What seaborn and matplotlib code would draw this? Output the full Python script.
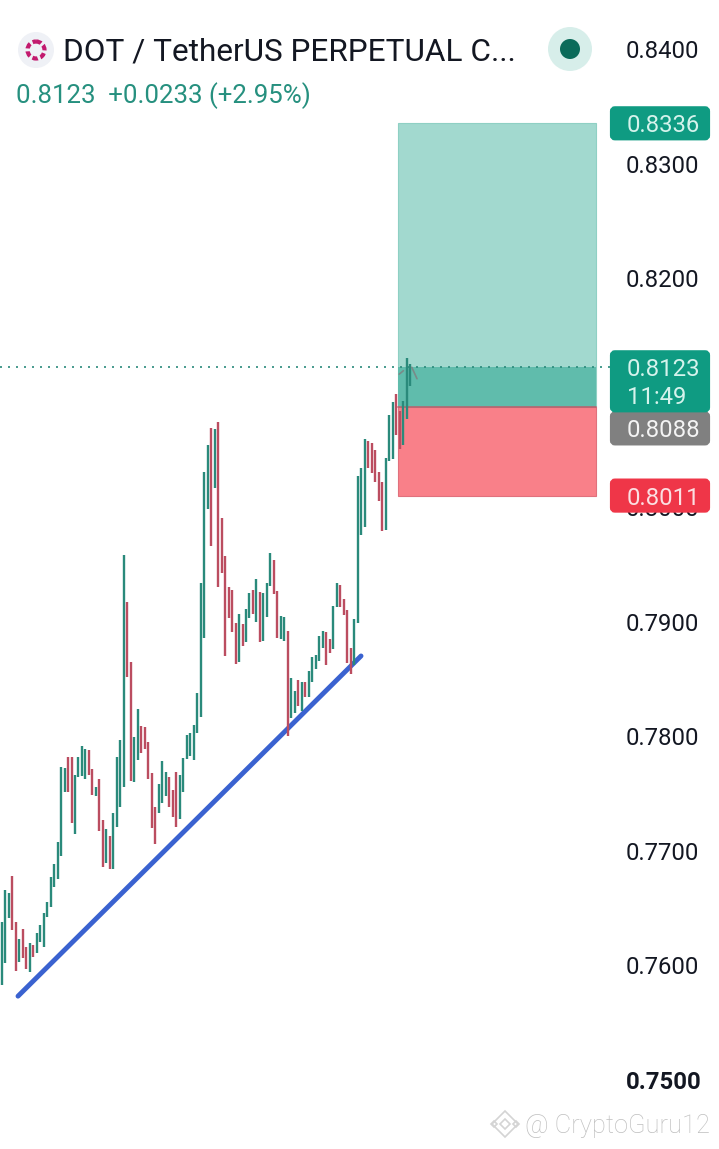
import numpy as np
import pandas as pd
import matplotlib as mpl
mpl.use('Agg')
import matplotlib.pyplot as plt
from matplotlib.patches import Circle, FancyBboxPatch, RegularPolygon
from matplotlib.transforms import Affine2D, ScaledTranslation
import seaborn as sns

# prices in 1e-4 units, left to right
bar_highs = [7639, 7667, 7664, 7679, 7639, 7624, 7633, 7617, 7620, 7619,
             7629, 7636, 7647, 7656, 7678, 7689, 7709, 7774, 7773, 7783,
             7783, 7767, 7783, 7792, 7790, 7789, 7772, 7757, 7764, 7728,
             7720, 7714, 7734, 7783, 7798, 7959, 7918, 7866, 7800, 7825,
             7810, 7809, 7796, 7769, 7739, 7759, 7779, 7770, 7765, 7754,
             7770, 7767, 7782, 7802, 7804, 7811, 7839, 7935, 8032, 8055,
             8070, 8069, 8075, 7991, 7958, 7931, 7929, 7900, 7908, 7899,
             7912, 7926, 7929, 7938, 7927, 7926, 7935, 7961, 7955, 7928,
             7906, 7905, 7893, 7852, 7840, 7850, 7848, 7848, 7858, 7870,
             7872, 7888, 7893, 7892, 7886, 7915, 7935, 7933, 7921, 7911,
             7878, 7903, 8028, 8035, 8060, 8059, 8057, 8051, 8032, 8023,
             8044, 8081, 8093, 8100, 8085, 8094, 8131, 8126]
bar_lows = [7584, 7603, 7642, 7632, 7596, 7604, 7607, 7598, 7595, 7608,
            7612, 7621, 7617, 7643, 7652, 7669, 7676, 7696, 7752, 7752,
            7725, 7716, 7765, 7766, 7764, 7767, 7750, 7749, 7718, 7687,
            7690, 7685, 7685, 7722, 7739, 7757, 7853, 7762, 7761, 7780,
            7786, 7790, 7764, 7721, 7707, 7734, 7743, 7749, 7739, 7730,
            7722, 7729, 7752, 7781, 7784, 7780, 7804, 7818, 7887, 7999,
            7967, 8018, 7931, 7943, 7871, 7904, 7892, 7864, 7866, 7880,
            7883, 7904, 7908, 7901, 7883, 7884, 7905, 7932, 7925, 7887,
            7886, 7884, 7801, 7817, 7821, 7827, 7823, 7835, 7835, 7848,
            7860, 7867, 7878, 7863, 7874, 7877, 7914, 7914, 7907, 7865,
            7855, 7863, 7900, 7977, 7984, 8035, 8031, 8023, 8006, 7980,
            7981, 8041, 8043, 8064, 8052, 8055, 8078, 8107]
bar_sides = ('GGGRRGRRGR' 'GGGGGGGGGR' 'RGGGGRRGRR' 'GRGGGGRRGG' 'RRRRRGGGRR'
             'RGGGGGGGGG' 'RGRRRRRRGR' 'GGRGRGGGRR' 'GGRGGRGRGG' 'GGGRRGGRRR'
             'RGGGGRRRRR' 'GGGRRGGG')

tick_prices = [0.84, 0.83, 0.82, 0.80, 0.79, 0.78, 0.77, 0.76, 0.75]
tick_labels = ['0.8400', '0.8300', '0.8200', '0.8000', '0.7900', '0.7800',
               '0.7700', '0.7600', '0.7500']

last_price = 0.8123
target_price = 0.8336
entry_price = 0.8088
stop_price = 0.8011
trend_bars = [4.67, 102.96]
trend_prices = [0.7574, 0.7871]

W, H = 719, 1149
AX_W = 620
BAR_STEP = 3.49
BAR_X0 = 1.7
GREEN, RED = '#2a8a7b', '#bb4d60'
FONT = ['Roboto', 'DejaVu Sans']

sns.set_style('white')
plt.rcParams['font.family'] = FONT

df = pd.DataFrame({'bar': np.arange(len(bar_highs)),
                   'high': np.array(bar_highs) / 1e4,
                   'low': np.array(bar_lows) / 1e4,
                   'side': list(bar_sides)})
long_df = df.melt(id_vars=['bar', 'side'], value_vars=['high', 'low'], value_name='price')

fig = plt.figure(figsize=(W / 100, H / 100), dpi=100)
ax = fig.add_axes([0, 0, AX_W / W, 1])
# everything outside the plot area is placed in screen pixels, y going down
px = Affine2D().scale(1 / W, -1 / H).translate(0, 1) + fig.transFigure

# position tool
ax.axhspan(entry_price, target_price, xmin=398 / AX_W, xmax=596 / AX_W,
           fc='#a2d9cf', ec='#8fd0c4', lw=0.8, zorder=1)
ax.axhspan(stop_price, entry_price, xmin=398 / AX_W, xmax=596 / AX_W,
           fc='#f98089', ec='#e0717d', lw=0.8, zorder=1)
ax.axhspan(entry_price, last_price, xmin=398 / AX_W, xmax=596 / AX_W,
           fc='#60bcac', lw=0, zorder=1.1)
ax.axhline(entry_price, xmin=398 / AX_W, xmax=596 / AX_W, color='#b5656f', lw=1.2, zorder=1.2)

ax.plot(trend_bars, trend_prices, color='#3a62d0', lw=3.5, solid_capstyle='round', zorder=1.5)

sns.lineplot(data=long_df, x='bar', y='price', units='bar', hue='side', estimator=None,
             sort=False, errorbar=None, palette={'G': GREEN, 'R': RED}, legend=False,
             lw=1.7, solid_capstyle='butt', ax=ax, zorder=2)

ax.axhline(last_price, xmax=610 / AX_W, color='#2a8a7b', lw=1.2, ls=(0, (1.2, 3.6)), zorder=1.8)

# small order chevron on the last bar
ax.plot([113.9, 115.1], [0.8117, 0.8120], color='#7a8a88', lw=1.2, zorder=3)
ax.plot([117.5, 119.0], [0.8123, 0.8113], color='#7a8a88', lw=1.2, zorder=3)

ax.set_xlim(-BAR_X0 / BAR_STEP, (AX_W - BAR_X0) / BAR_STEP)
ax.set_ylim((8443.65 - 0.873 * H) / 1e4, 0.844365)
ax.set_xlabel('')
ax.set_ylabel('')
ax.set_xticks([])
ax.yaxis.tick_right()
ax.set_yticks(tick_prices, tick_labels)
ax.tick_params(axis='y', length=0, pad=4.2, labelsize=17.2, labelcolor='#131722')
ax.get_yticklabels()[-1].set_fontweight('bold')
up_1px = ScaledTranslation(0, 1 / 100, fig.dpi_scale_trans)
for t in ax.yaxis.get_major_ticks():
    t.label2.set_transform(t.label2.get_transform() + up_1px)
sns.despine(ax=ax, left=True, bottom=True, right=True, top=True)
ax.patch.set_alpha(0)


def tag(labels, price, color, text_color, height=34, shift=0):
    # shift: the app pushes a tag down when it would sit on another one
    yc = H - ax.transData.transform((0, price))[1] + shift
    fig.add_artist(FancyBboxPatch((612, yc - 15), 96, height - 4, boxstyle='round,pad=0,rounding_size=3',
                                  fc=color, ec=color, lw=3, transform=px, zorder=6))
    for i, label in enumerate(labels):
        fig.text(627, yc + i * 28, label, color=text_color, fontsize=17.2, ha='left', va='center_baseline',
                 transform=px, zorder=7)


tag(['0.8336'], target_price, '#0f9b82', '#d5f3ec')
tag(['0.8088'], entry_price, '#808080', '#f4f4f4', shift=21)
tag(['0.8123', '11:49'], last_price, '#0f9b82', '#d5f3ec', height=62)
tag(['0.8011'], stop_price, '#ef3648', '#fbdfe2')

# header
fig.add_artist(Circle((36, 50), 18, fc='#eff1f6', ec='none', transform=px))
fig.add_artist(Circle((36, 50), 8.5, fc='none', ec='#c2196e', lw=3, ls=(0, (1.3, 0.7)), transform=px))
fig.text(63, 49, 'DOT / TetherUS PERPETUAL C...', fontsize=22.7, color='#131722', va='center_baseline', transform=px)
fig.text(16, 93, '0.8123  +0.0233 (+2.95%)', fontsize=18.6, color='#26907f', va='center_baseline', transform=px)
fig.add_artist(Circle((570, 49), 22, fc='#d7eeea', ec='none', transform=px))
fig.add_artist(Circle((570, 49), 10, fc='#0b6b5a', ec='none', transform=px))

# watermark
fig.text(525, 1124, '@ CryptoGuru12', fontsize=18.4, color='#bfbfbf', fontweight='light',
         va='center_baseline', transform=px)
for cx, cy, r in [(505, 1124, 13), (505, 1124, 5), (494, 1124, 3), (516, 1124, 3)]:
    fig.add_artist(RegularPolygon((cx, cy), 4, radius=r, fc='none', ec='#d4d4d4', lw=1.2, transform=px))

plt.savefig('out.png', dpi=100)
